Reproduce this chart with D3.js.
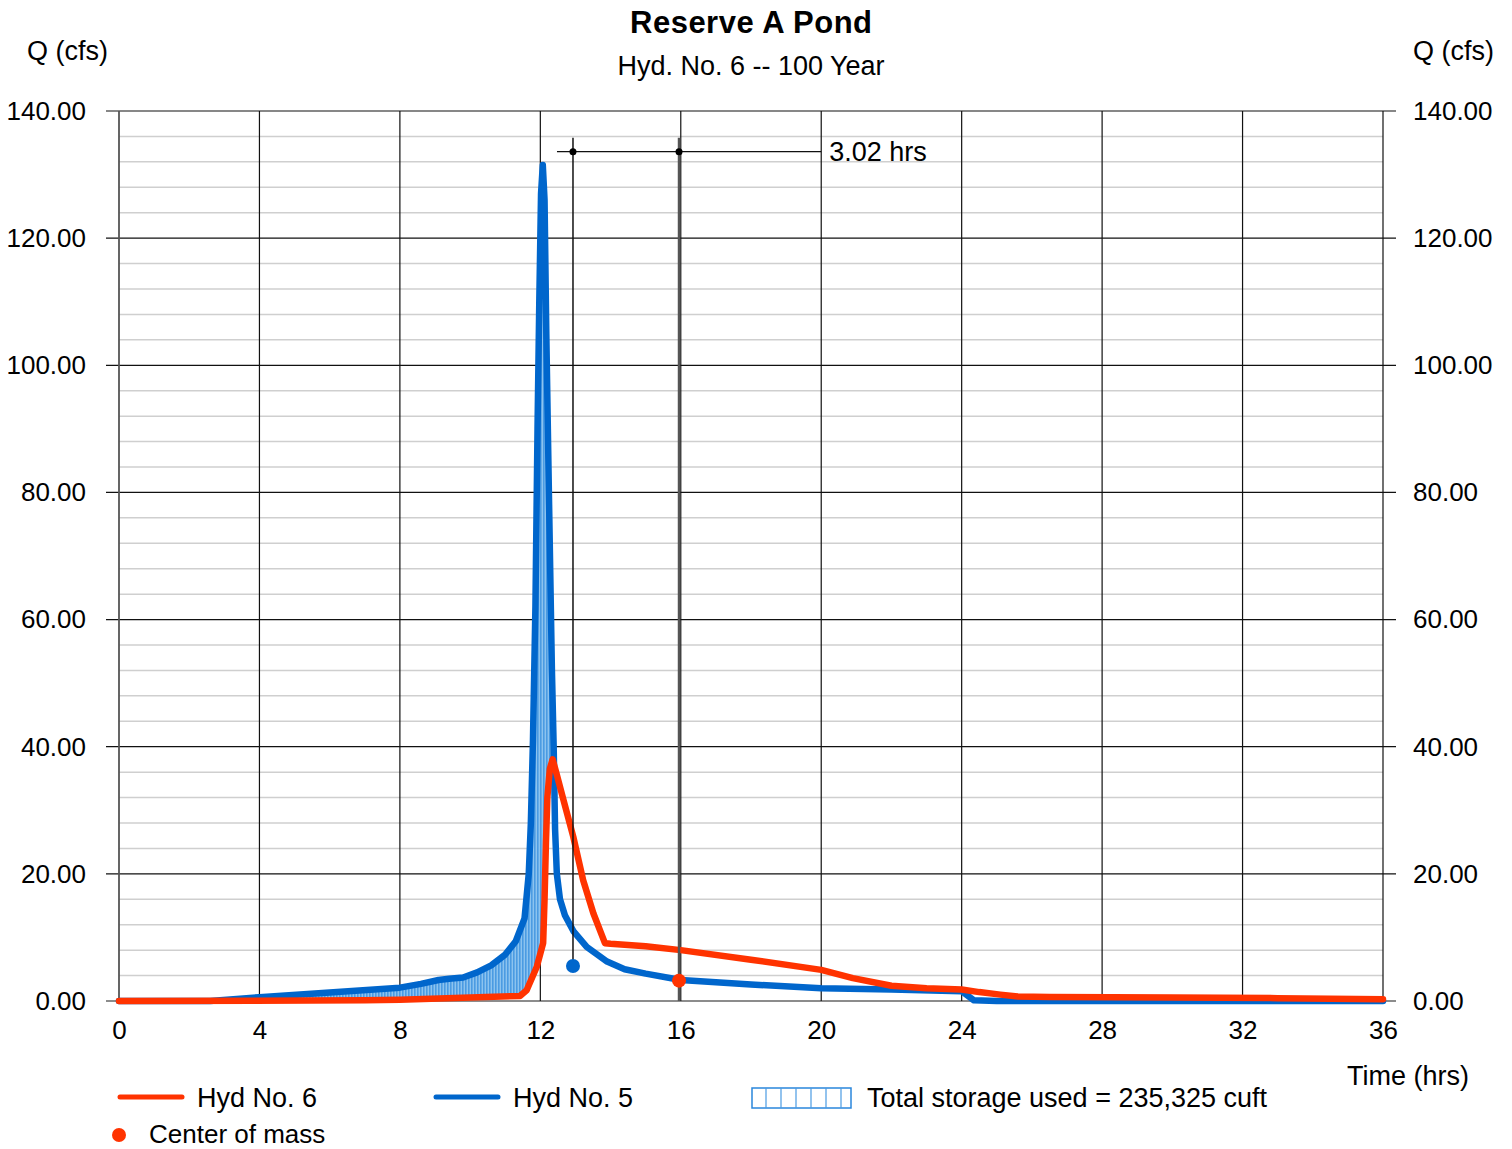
<!DOCTYPE html>
<html>
<head>
<meta charset="utf-8">
<script src="https://cdn.jsdelivr.net/npm/d3@7"></script>
<style>
  html, body { margin: 0; padding: 0; background: #fff; }
  svg { display: block; font-family: "Liberation Sans", Arial, sans-serif; }
</style>
</head>
<body>
<svg id="chart" width="1512" height="1149"></svg>
<script>
// ---------------- data ----------------
const xTicks = [0, 4, 8, 12, 16, 20, 24, 28, 32, 36];
const yTicks = [0, 20, 40, 60, 80, 100, 120, 140];
const yMinorTicks = d3.range(0, 141, 4);

// Hyd No. 5 (inflow, blue)
const hyd5Time = [0, 2.6, 4, 6, 8, 8.6, 9.1, 9.4, 9.8, 10.2, 10.6, 11.0, 11.3, 11.55, 11.67, 11.73, 11.79, 11.86, 11.92, 11.97, 12.02, 12.07, 12.12, 12.17, 12.25, 12.33, 12.38, 12.42, 12.47, 12.56, 12.7, 12.94, 13.32, 13.9, 14.4, 15.0, 16.0, 18.0, 20.0, 22.0, 24.0, 24.35, 25.0, 36.0];
const hyd5Flow = [0, 0, 0.6, 1.35, 2.1, 2.7, 3.3, 3.5, 3.7, 4.5, 5.6, 7.3, 9.4, 13.0, 20, 28, 41, 62, 90, 110, 127, 131.5, 126, 105, 78, 52, 40, 27, 20, 16, 13.5, 11.0, 8.5, 6.2, 5.0, 4.3, 3.3, 2.6, 2.0, 1.8, 1.55, 0.1, 0, 0];

// Hyd No. 6 (outflow, red)
const hyd6Time = [0, 7, 8, 10, 11.42, 11.61, 11.9, 12.08, 12.12, 12.16, 12.2, 12.27, 12.35, 12.45, 12.66, 12.94, 13.22, 13.51, 13.84, 14.0, 15.0, 16.0, 18.0, 20.0, 20.9, 22.0, 23.0, 24.0, 24.5, 25.1, 25.6, 26.5, 30.0, 33.0, 36.0];
const hyd6Flow = [0, 0.1, 0.2, 0.55, 0.8, 1.7, 5.4, 9.1, 16, 25, 32, 36.5, 38, 36, 31.6, 25.8, 19, 13.8, 9.1, 9.0, 8.6, 8.0, 6.5, 4.9, 3.6, 2.4, 2.0, 1.8, 1.4, 1.0, 0.7, 0.62, 0.55, 0.45, 0.27];

// centers of mass
const comTime = [12.93, 15.95];
const comFlow = [5.5, 3.2];
const comColor = ["#0066cc", "#ff3300"];
const lagLabel = "3.02 hrs";

// ---------------- layout ----------------
const svg = d3.select("#chart");
const L = 119, R = 1383, T = 111, B = 1001;
const x = d3.scaleLinear().domain([0, 36]).range([L, R]);
const y = d3.scaleLinear().domain([0, 140]).range([B, T]);
const FS = 26, FS2 = 27;
const LW = 6.5;

const blue = "#0066cc", red = "#ff3300";

// pattern for storage hatch
const defs = svg.append("defs");
const pat = defs.append("pattern").attr("id", "hatch").attr("patternUnits", "userSpaceOnUse")
  .attr("width", 3).attr("height", 10);
pat.append("rect").attr("width", 3).attr("height", 10).attr("fill", "#8cc3ef");
pat.append("rect").attr("width", 1.6).attr("height", 10).attr("fill", "#4b9be2");

const hyd6Pts = hyd6Time.map((t, i) => [t, hyd6Flow[i]]);
const hyd5Pts = hyd5Time.map((t, i) => [t, hyd5Flow[i]]);
defs.append("clipPath").attr("id", "aboveRed").append("path")
  .attr("d", d3.area().x(d => x(d[0])).y0(y(140)).y1(d => y(d[1]))(hyd6Pts));

// minor grid
svg.append("g").selectAll("line").data(yMinorTicks.filter(v => v % 20 !== 0)).join("line")
  .attr("x1", L).attr("x2", R).attr("y1", d => y(d)).attr("y2", d => y(d))
  .attr("stroke", "#cfcfcf").attr("stroke-width", 1.5);

// major horizontal grid (extending as ticks beyond plot)
svg.append("g").selectAll("line").data(yTicks).join("line")
  .attr("x1", L - 13).attr("x2", R + 13).attr("y1", d => y(d)).attr("y2", d => y(d))
  .attr("stroke", d => d === 0 ? "#666" : "#111").attr("stroke-width", d => d === 0 ? 1.5 : 1.2);

// vertical grid
svg.append("g").selectAll("line").data(xTicks).join("line")
  .attr("x1", d => x(d)).attr("x2", d => x(d)).attr("y1", T).attr("y2", B)
  .attr("stroke", d => d === 0 ? "#555" : "#111").attr("stroke-width", d => d === 0 ? 1.8 : 1.2);

// axes (labels only)
const yl = svg.append("g").attr("transform", `translate(${L},0)`)
  .call(d3.axisLeft(y).tickValues(yTicks).tickFormat(d3.format(".2f")).tickSize(0).tickPadding(33));
const yr = svg.append("g").attr("transform", `translate(${R},0)`)
  .call(d3.axisRight(y).tickValues(yTicks).tickFormat(d3.format(".2f")).tickSize(0).tickPadding(30));
const xb = svg.append("g").attr("transform", `translate(0,${B})`)
  .call(d3.axisBottom(x).tickValues(xTicks).tickFormat(d3.format("d")).tickSize(0).tickPadding(20));
[yl, yr, xb].forEach(g => {
  g.select(".domain").remove();
  g.selectAll("text").attr("font-size", FS).attr("fill", "#000").attr("font-family", "Liberation Sans, Arial, sans-serif");
});

// storage fill: under blue, above red
svg.append("path")
  .attr("clip-path", "url(#aboveRed)")
  .attr("d", d3.area().x(d => x(d[0])).y0(y(0)).y1(d => y(d[1]))(hyd5Pts))
  .attr("fill", "url(#hatch)");

// lines
const line = d3.line().x(d => x(d[0])).y(d => y(d[1]));
svg.append("path").attr("d", line(hyd5Pts)).attr("fill", "none").attr("stroke", blue)
  .attr("stroke-width", LW).attr("stroke-linejoin", "round").attr("stroke-linecap", "round");
svg.append("path").attr("d", line(hyd6Pts)).attr("fill", "none").attr("stroke", red)
  .attr("stroke-width", LW).attr("stroke-linejoin", "round").attr("stroke-linecap", "round");

// lag annotation
const annTop = 135.8, annH = 133.6;
svg.append("line").attr("x1", x(comTime[0])).attr("x2", x(comTime[0]))
  .attr("y1", y(annTop)).attr("y2", y(comFlow[0])).attr("stroke", "#111").attr("stroke-width", 1.5);
svg.append("line").attr("x1", x(comTime[1])).attr("x2", x(comTime[1]))
  .attr("y1", y(annTop)).attr("y2", y(0)).attr("stroke", "#555").attr("stroke-width", 2.5);
svg.append("line").attr("x1", x(comTime[0]) - 16).attr("x2", x(20))
  .attr("y1", y(annH)).attr("y2", y(annH)).attr("stroke", "#111").attr("stroke-width", 1.2);
svg.append("g").selectAll("circle").data(comTime).join("circle")
  .attr("cx", d => x(d)).attr("cy", y(annH)).attr("r", 3.5).attr("fill", "#000");
svg.append("text").attr("x", x(20) + 8).attr("y", y(annH) + 9).attr("font-size", FS2).text(lagLabel);

// centers of mass
svg.append("g").selectAll("circle").data(comTime).join("circle")
  .attr("cx", d => x(d)).attr("cy", (d, i) => y(comFlow[i])).attr("r", 7)
  .attr("fill", (d, i) => comColor[i]);

// titles
svg.append("text").attr("x", 751).attr("y", 33).attr("text-anchor", "middle")
  .attr("font-size", 31).attr("font-weight", "bold")
  .attr("textLength", 242).attr("lengthAdjust", "spacing").text("Reserve A Pond");
svg.append("text").attr("x", 751).attr("y", 75).attr("text-anchor", "middle")
  .attr("font-size", FS2).text("Hyd. No. 6 -- 100 Year");
svg.append("text").attr("x", 27).attr("y", 60).attr("font-size", FS2).text("Q (cfs)");
svg.append("text").attr("x", 1413).attr("y", 60).attr("font-size", FS2).text("Q (cfs)");
svg.append("text").attr("x", 1347).attr("y", 1085).attr("font-size", FS2).text("Time (hrs)");

// legend
svg.append("line").attr("x1", 120).attr("x2", 182).attr("y1", 1097).attr("y2", 1097)
  .attr("stroke", red).attr("stroke-width", 5).attr("stroke-linecap", "round");
svg.append("text").attr("x", 197).attr("y", 1107).attr("font-size", FS2).text("Hyd No. 6");
svg.append("line").attr("x1", 436).attr("x2", 498).attr("y1", 1097).attr("y2", 1097)
  .attr("stroke", blue).attr("stroke-width", 5).attr("stroke-linecap", "round");
svg.append("text").attr("x", 513).attr("y", 1107).attr("font-size", FS2).text("Hyd No. 5");
const lg = svg.append("g");
lg.append("rect").attr("x", 752).attr("y", 1088).attr("width", 99).attr("height", 20)
  .attr("fill", "none").attr("stroke", "#2a86dc").attr("stroke-width", 1.5);
lg.selectAll("line").data(d3.range(1, 7)).join("line")
  .attr("x1", d => 752 + d * 15 - 1).attr("x2", d => 752 + d * 15 - 1)
  .attr("y1", 1088).attr("y2", 1108).attr("stroke", "#4a9be3").attr("stroke-width", 1.2);
svg.append("text").attr("x", 867).attr("y", 1107).attr("font-size", FS2).text("Total storage used = 235,325 cuft");
svg.append("circle").attr("cx", 119).attr("cy", 1135).attr("r", 7).attr("fill", red);
svg.append("text").attr("x", 149).attr("y", 1143).attr("font-size", 26).text("Center of mass");
</script>
</body>
</html>
